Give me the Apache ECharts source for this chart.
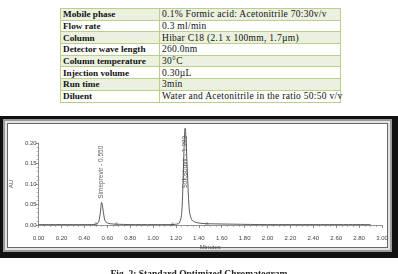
<!DOCTYPE html>
<html>
<head>
<meta charset="utf-8">
<script src="https://cdn.jsdelivr.net/npm/echarts@6/dist/echarts.min.js"></script>
<style>
  html, body { margin: 0; padding: 0; background: #fff; width: 398px; height: 274px; overflow: hidden; }
  .params { position: absolute; left: 60px; top: 8px; width: 280px; border-collapse: collapse; table-layout: fixed;
    font-family: "Liberation Serif", "DejaVu Serif", serif; font-size: 9.5px; color: #111; }
  .params td { border: 1px solid #b9cf8e; height: 10.7px; padding: 0 0 0 2px; line-height: 10px; white-space: nowrap;
    overflow: visible; letter-spacing: 0.28px; }
  .params td:first-child { font-weight: bold; font-size: 9.2px; letter-spacing: 0; }
  .params tr:nth-child(even) td { background: #ebf1de; }
  .frame { position: absolute; left: 0; top: 116px; width: 398px; height: 142px; box-sizing: border-box;
    border-left: 3px solid #111; border-top: 3px solid #111; border-right: 6px solid #111; border-bottom: 6px solid #111;
    box-shadow: inset 0 0 0 2px #9a9a9a, inset 0 0 0 4px #e4e4e4; }
  .frame .inner { position: absolute; left: 4px; top: 4px; right: 4px; bottom: 4px; border: 1px solid #666; background: #fff; }
  .barChart { position: absolute; left: 0; top: 0; width: 398px; height: 274px; }
  .caption { position: absolute; left: 0; width: 398px; top: 269px; text-align: center;
    font-family: "Liberation Serif", "DejaVu Serif", serif; font-weight: bold; font-size: 9.5px; color: #222; }
</style>
</head>
<body>
<table class="params" id="params"><colgroup><col style="width:99px"><col style="width:181px"></colgroup></table>
<div class="frame"><div class="inner"></div></div>
<div class="barChart"></div>
<div class="caption">Fig. 2: Standard Optimized Chromatogram</div>
<script>
// method parameters (table)
const paramNames = ['Mobile phase', 'Flow rate', 'Column', 'Detector wave length', 'Column temperature',
  'Injection volume', 'Run time', 'Diluent'];
const paramValues = ['0.1% Formic acid: Acetonitrile 70:30v/v', '0.3 ml/min', 'Hibar C18 (2.1 x 100mm, 1.7\u00b5m)',
  '260.0nm', '30\u00b0C', '0.30\u00b5L', '3min', 'Water and Acetonitrile in the ratio 50:50 v/v'];

// chromatogram trace
const times = [0.00, 0.10, 0.20, 0.30, 0.40, 0.46, 0.50, 0.52, 0.53, 0.54, 0.545, 0.55, 0.555, 0.56, 0.57, 0.58,
  0.60, 0.63, 0.68, 0.80, 1.00, 1.15, 1.20, 1.23, 1.25, 1.26, 1.27, 1.275, 1.28, 1.285, 1.29, 1.30, 1.31, 1.32,
  1.34, 1.37, 1.42, 1.50, 1.70, 2.00, 2.40, 2.90];
const au = [0.001, 0.001, 0.001, 0.001, 0.001, 0.001, 0.002, 0.005, 0.013, 0.031, 0.045, 0.055, 0.052, 0.043,
  0.024, 0.011, 0.005, 0.003, 0.002, 0.001, 0.001, 0.001, 0.002, 0.005, 0.028, 0.090, 0.180, 0.220, 0.236, 0.225,
  0.195, 0.130, 0.065, 0.030, 0.012, 0.007, 0.004, 0.003, 0.002, 0.001, 0.001, 0.001];

// peaks and integration marks
const peakNames = ['Simeprevir', 'Sofosbuvir'];
const peakTimes = [0.550, 1.282];
const peakLabelAu = [0.064, 0.089];
const markTimes = [0.50, 0.68, 1.17, 1.47];

const xTicks = ['0.00', '0.20', '0.40', '0.60', '0.80', '1.00', '1.20', '1.40', '1.60', '1.80', '2.00',
  '2.20', '2.40', '2.60', '2.80', '3.00'];
const yTicks = ['0.00', '0.05', '0.10', '0.15', '0.20'];

const table = document.getElementById('params');
paramNames.forEach((n, i) => {
  const tr = document.createElement('tr');
  tr.innerHTML = `<td>${n}</td><td>${paramValues[i]}</td>`;
  table.appendChild(tr);
});

const chart = echarts.init(document.querySelector('.barChart'));
const axisFont = { fontFamily: 'Liberation Sans', fontSize: 6, color: '#444' };

chart.setOption({
  animation: false,
  grid: { left: 35, right: 16, top: 143, bottom: 49 },
  xAxis: {
    type: 'value', min: 0, max: 3, interval: 0.2, offset: 6,
    name: 'Minutes', nameLocation: 'middle', nameGap: 13,
    nameTextStyle: axisFont,
    axisLine: { lineStyle: { color: '#777', width: 0.8 } },
    axisTick: { length: 3, lineStyle: { color: '#666', width: 0.7 } },
    minorTick: { show: true, splitNumber: 4, length: 2, lineStyle: { color: '#888', width: 0.6 } },
    splitLine: { show: false },
    axisLabel: Object.assign({ margin: 4, formatter: v => xTicks[Math.round(v / 0.2)] }, axisFont)
  },
  yAxis: {
    type: 'value', min: 0, max: 0.2, interval: 0.05,
    name: 'AU', nameLocation: 'middle', nameGap: 15, nameRotate: 90,
    nameTextStyle: axisFont,
    axisLine: { show: true, lineStyle: { color: '#777', width: 0.8 } },
    axisTick: { show: true, length: 3, lineStyle: { color: '#666', width: 0.7 } },
    minorTick: { show: true, splitNumber: 5, length: 2, lineStyle: { color: '#888', width: 0.6 } },
    splitLine: { show: false },
    axisLabel: Object.assign({ margin: 2, formatter: v => yTicks[Math.round(v / 0.05)] }, axisFont)
  },
  series: [
    {
      type: 'line', clip: false, symbol: 'none', smooth: 0.3,
      data: times.map((t, i) => [t, au[i]]),
      lineStyle: { color: '#333', width: 0.8 }
    },
    {
      type: 'scatter', symbol: 'triangle', symbolSize: 3, clip: false,
      data: markTimes.map(t => [t, 0.003]),
      itemStyle: { color: 'transparent', borderColor: '#666', borderWidth: 0.6 }
    },
    {
      type: 'scatter', symbolSize: 0, clip: false,
      data: peakTimes.map((t, i) => ({ value: [t, peakLabelAu[i]], name: peakNames[i] })),
      label: {
        show: true, position: 'inside', rotate: 90, align: 'left', verticalAlign: 'middle',
        fontFamily: 'Liberation Sans', fontSize: 6.5, color: '#333',
        backgroundColor: '#fff', padding: [0, 0, 0, 0],
        formatter: p => `${p.name} - ${peakTimes[p.dataIndex].toFixed(3)}`
      }
    }
  ]
});
</script>
</body>
</html>
